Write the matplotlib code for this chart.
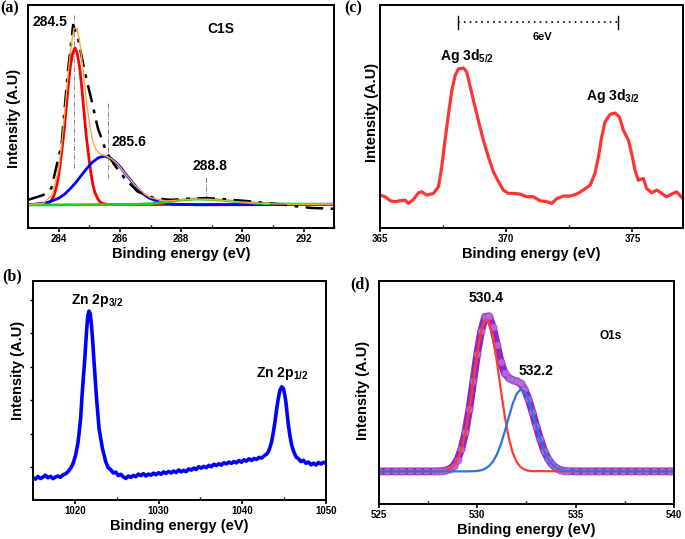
import matplotlib
matplotlib.use('Agg')
import matplotlib.pyplot as plt
from matplotlib.ticker import MultipleLocator

plt.rcParams['font.family'] = ['Liberation Sans', 'DejaVu Sans']
plt.rcParams['mathtext.fontset'] = 'custom'
plt.rcParams['mathtext.rm'] = 'Liberation Sans:bold'
plt.rcParams['mathtext.bf'] = 'Liberation Sans:bold'

# ---- (a) C1s fit (arbitrary units, axis 0-100)
c1s_red_x = [283.0, 283.66, 283.74, 283.81, 283.88, 283.95, 284.02, 284.09, 284.17, 284.24,
             284.31, 284.38, 284.46, 284.53, 284.60, 284.68, 284.75, 284.82, 284.89, 284.97,
             285.04, 285.11, 285.18, 285.26, 285.33, 285.40, 285.6, 293.0]
c1s_red_y = [10.4, 11.2, 12.0, 13.5, 16.0, 19.9, 25.6, 33.2, 42.6, 53.0,
             63.5, 72.4, 78.5, 80.7, 78.5, 72.4, 63.5, 53.0, 42.6, 33.2,
             25.6, 19.9, 16.0, 13.5, 12.0, 11.2, 10.5, 10.6]
c1s_blue_x = [283.0, 283.26, 283.63, 284.0, 284.19, 284.37, 284.56, 284.74, 284.93, 285.11,
              285.30, 285.48, 285.67, 285.85, 286.04, 286.22, 286.41, 286.59, 286.78, 286.96,
              287.33, 287.70, 288.5, 293.0]
c1s_blue_y = [10.5, 10.6, 11.4, 13.35, 15.1, 17.5, 20.4, 23.6, 26.9, 29.6,
              31.5, 32.2, 31.5, 29.6, 26.9, 23.6, 20.4, 17.5, 15.1, 13.35,
              11.4, 10.65, 10.4, 10.5]
c1s_green_x = [283.0, 286.5, 287.0, 287.5, 288.0, 288.5, 289.0, 289.5, 290.0, 290.5, 291.0, 292.0, 293.0]
c1s_green_y = [10.3, 10.6, 10.9, 11.6, 12.5, 13.0, 12.8, 12.2, 11.6, 11.1, 10.8, 10.7, 10.7]
c1s_env_x = [283.0, 283.5, 283.8, 284.0, 284.1, 284.2, 284.3, 284.4, 284.5, 284.6,
             284.7, 284.8, 284.9, 285.0, 285.1, 285.2, 285.3, 285.4, 285.5, 285.7,
             285.9, 286.1, 286.3, 286.5, 286.8, 287.0, 287.5, 288.0, 288.5, 289.0,
             289.5, 290.0, 291.0, 292.0, 293.0]
c1s_env_y = [10.5, 11.1, 15.0, 26.6, 37.7, 52.0, 67.8, 81.5, 89.5, 89.4,
             82.1, 70.4, 57.6, 47.1, 39.6, 35.6, 33.7, 32.9, 32.5, 31.2,
             28.9, 25.7, 22.2, 19.0, 15.3, 13.6, 12.1, 12.6, 13.0, 12.8,
             12.2, 11.6, 10.8, 10.7, 10.7]
c1s_raw_x = [283.0, 283.5, 283.76, 284.09, 284.3, 284.47, 284.63, 284.85, 285.06, 285.28,
             285.55, 285.82, 286.15, 286.58, 287.13, 287.67, 288.3, 288.86, 289.5, 290.2,
             290.9, 291.4, 291.77, 292.24, 292.8, 293.0]
c1s_raw_y = [12.6, 14.8, 17.8, 37.2, 70.0, 91.0, 85.0, 70.0, 58.0, 44.7,
             34.2, 28.3, 22.3, 16.3, 13.3, 12.6, 13.2, 13.4, 12.8, 12.0,
             11.0, 10.4, 9.7, 9.0, 8.7, 8.6]
c1s_peaks = [284.5, 285.6, 288.8]
c1s_marker_lo = [26.8, 22.3, 12.7]
c1s_marker_hi = [95.5, 56.6, 23.0]

# ---- (b) Zn 2p
zn_x = [1015.0, 1015.3, 1015.6, 1015.9, 1016.2, 1016.5, 1016.8, 1017.1, 1017.4, 1017.7,
        1018.0, 1018.3, 1018.6, 1018.9, 1019.2, 1019.5, 1019.8, 1020.1, 1020.4, 1020.7,
        1020.9, 1021.2, 1021.4, 1021.55, 1021.7, 1021.85, 1022.0, 1022.15, 1022.3, 1022.6,
        1022.9, 1023.3, 1023.7, 1024.0, 1024.3, 1024.6, 1024.9, 1025.2, 1025.5, 1025.8,
        1026.1, 1026.4, 1026.7, 1027.0, 1027.3, 1027.6, 1027.9, 1028.2, 1028.5, 1028.8,
        1029.1, 1029.4, 1029.7, 1030.0, 1030.3, 1030.6, 1030.9, 1031.2, 1031.5, 1031.8,
        1032.1, 1032.4, 1032.7, 1033.0, 1033.3, 1033.6, 1033.9, 1034.2, 1034.5, 1034.8,
        1035.1, 1035.4, 1035.7, 1036.0, 1036.3, 1036.6, 1036.9, 1037.2, 1037.5, 1037.8,
        1038.1, 1038.4, 1038.7, 1039.0, 1039.3, 1039.6, 1039.9, 1040.2, 1040.5, 1040.8,
        1041.1, 1041.4, 1041.7, 1042.0, 1042.3, 1042.6, 1042.9, 1043.1, 1043.3, 1043.5,
        1043.7, 1043.9, 1044.1, 1044.3, 1044.5, 1044.7, 1044.9, 1045.05, 1045.2, 1045.35,
        1045.5, 1045.7, 1045.9, 1046.1, 1046.4, 1046.7, 1047.0, 1047.3, 1047.6, 1047.9,
        1048.2, 1048.5, 1048.8, 1049.1, 1049.4, 1049.7, 1050.0]
zn_y = [10.3, 9.6, 10.8, 9.9, 10.5, 11.4, 10.2, 10.9, 9.8, 10.6,
        11.0, 10.4, 11.6, 12.0, 13.0, 14.5, 16.7, 20.5, 26.6, 37.2,
        49.4, 64.6, 76.7, 84.0, 86.2, 84.8, 79.5, 72.0, 63.1, 46.4,
        32.7, 23.6, 17.5, 14.8, 13.9, 12.4, 12.8, 11.2, 11.8, 10.6,
        9.9, 11.0, 10.4, 11.3, 10.7, 11.9, 11.2, 12.1, 11.0, 11.9,
        11.4, 12.3, 11.6, 12.5, 11.8, 12.9, 12.2, 13.1, 12.4, 13.3,
        12.6, 13.8, 12.9, 13.6, 13.0, 14.3, 13.7, 14.6, 14.0, 15.3,
        14.6, 15.4, 14.8, 15.9, 15.2, 16.4, 15.8, 16.6, 16.0, 17.1,
        16.5, 17.4, 16.8, 17.6, 17.0, 18.1, 17.3, 18.4, 17.8, 18.9,
        18.1, 19.0, 18.6, 19.5, 19.2, 20.2, 21.0, 22.0, 24.0, 26.6,
        30.8, 35.7, 41.5, 46.4, 50.2, 51.7, 50.9, 48.5, 44.8, 39.5,
        34.2, 29.0, 25.1, 22.5, 19.8, 18.9, 17.6, 18.2, 16.8, 17.4,
        16.1, 16.9, 16.0, 17.2, 16.5, 17.3, 16.7]
zn_yticks = [15.2, 30.4, 45.6, 60.8, 76.0, 91.2]

# ---- (c) Ag 3d
ag_x = [365.0, 365.2, 365.4, 365.59, 365.79, 365.99, 366.12, 366.32, 366.52, 366.65,
        366.85, 367.11, 367.31, 367.44, 367.57, 367.71, 367.84, 367.97, 368.1, 368.3,
        368.43, 368.54, 368.7, 368.89, 369.09, 369.29, 369.49, 369.69, 369.88, 370.08,
        370.28, 370.54, 370.81, 371.07, 371.34, 371.6, 371.8, 372.0, 372.26, 372.52,
        372.79, 373.05, 373.32, 373.51, 373.65, 373.78, 373.91, 374.11, 374.31, 374.48,
        374.64, 374.84, 374.97, 375.1, 375.23, 375.43, 375.56, 375.76, 375.96, 376.16,
        376.35, 376.55, 376.75, 377.0]
ag_y = [14.7, 14.0, 12.2, 11.8, 12.2, 12.5, 11.0, 12.8, 15.8, 16.2,
        14.7, 15.5, 18.5, 27.4, 39.3, 51.2, 61.6, 68.3, 71.3, 71.7,
        69.9, 64.6, 57.1, 48.2, 39.3, 31.8, 25.1, 20.7, 17.0, 15.5,
        15.5, 15.2, 14.0, 14.0, 12.2, 11.8, 11.0, 13.2, 14.3, 14.3,
        15.2, 17.0, 19.2, 24.4, 31.8, 40.8, 47.5, 50.9, 51.5, 49.8,
        43.8, 39.3, 33.3, 25.9, 21.4, 22.2, 17.7, 15.8, 17.0, 15.5,
        14.0, 15.2, 16.2, 13.2]

# ---- (d) O1s
o_red_x = [525.0, 528.0, 528.2, 528.4, 528.6, 528.8, 529.0, 529.2, 529.4, 529.6,
           529.8, 530.0, 530.2, 530.4, 530.6, 530.8, 531.0, 531.2, 531.4, 531.6,
           531.8, 532.0, 532.2, 532.4, 532.6, 532.8, 540.0]
o_red_y = [14.6, 14.65, 14.75, 15.0, 15.7, 17.1, 19.9, 24.8, 32.2, 42.6,
           54.9, 67.4, 77.5, 82.7, 81.7, 74.7, 63.7, 51.1, 39.3, 29.7,
           23.0, 18.9, 16.6, 15.4, 14.9, 14.7, 14.6]
o_blue_x = [525.0, 529.4, 529.8, 530.0, 530.2, 530.4, 530.6, 530.8, 531.0, 531.2,
            531.4, 531.6, 531.8, 532.0, 532.2, 532.4, 532.6, 532.8, 533.0, 533.2,
            533.4, 533.6, 533.8, 534.0, 534.2, 534.4, 534.6, 540.0]
o_blue_y = [14.6, 14.6, 14.7, 14.8, 15.1, 15.8, 17.0, 19.0, 22.2, 26.7,
            32.5, 38.8, 44.8, 49.3, 51.3, 50.4, 46.8, 41.3, 35.0, 29.0,
            23.9, 20.2, 17.7, 16.2, 15.3, 14.9, 14.7, 14.6]
o_data_x = [525.0, 525.4, 525.8, 526.2, 526.6, 527.0, 527.4, 527.8, 528.0, 528.2,
            528.4, 528.6, 528.8, 529.0, 529.2, 529.4, 529.6, 529.8, 530.0, 530.2,
            530.4, 530.6, 530.8, 531.0, 531.2, 531.4, 531.6, 531.8, 532.0, 532.2,
            532.4, 532.6, 532.8, 533.0, 533.2, 533.4, 533.6, 533.8, 534.0, 534.2,
            534.4, 534.6, 535.0, 535.4, 535.8, 536.2, 536.6, 537.0, 537.4, 537.8,
            538.2, 538.6, 539.0, 539.4, 539.8, 540.0]
o_data_y = [14.6, 14.6, 14.6, 14.6, 14.6, 14.6, 14.6, 14.6, 14.65, 14.75,
            15.0, 15.7, 17.1, 19.9, 24.8, 32.2, 42.6, 54.9, 67.4, 77.5,
            83.9, 84.1, 79.1, 71.3, 63.6, 58.5, 56.5, 55.5, 55.0, 54.0,
            51.5, 47.1, 41.3, 35.0, 29.0, 23.9, 20.2, 17.7, 16.2, 15.3,
            14.9, 14.7, 14.6, 14.6, 14.6, 14.6, 14.6, 14.6, 14.6, 14.6,
            14.6, 14.6, 14.6, 14.6, 14.6, 14.6]

fig = plt.figure(figsize=(6.85, 5.39), dpi=100)

ax_a = fig.add_axes([0.041, 0.577, 0.447, 0.414])
ax_c = fig.add_axes([0.555, 0.577, 0.442, 0.414])
ax_b = fig.add_axes([0.048, 0.072, 0.428, 0.407])
ax_d = fig.add_axes([0.553, 0.065, 0.431, 0.414])

lbl = dict(fontsize=10.5, fontweight='bold')


def style(ax, xlim, major, minor, ycoords):
    ax.set_xlim(*xlim)
    ax.set_ylim(0, 100)
    ax.xaxis.set_major_locator(MultipleLocator(major))
    ax.xaxis.set_minor_locator(MultipleLocator(minor))
    ax.tick_params(axis='x', which='major', direction='out', length=3, width=1.2,
                   labelsize=7, pad=1.5)
    ax.tick_params(axis='x', which='minor', direction='in', length=2, width=1)
    for lab in ax.get_xticklabels():
        lab.set_fontweight('bold')
    ax.set_yticks([])
    for s in ax.spines.values():
        s.set_linewidth(1.4)
    ax.set_xlabel('Binding energy (eV)', labelpad=2, **lbl)
    ax.set_ylabel('Intensity (A.U)', **lbl)
    ax.yaxis.set_label_coords(*ycoords)


# (a)
style(ax_a, (283, 293), 2, 1, (-0.022, 0.49))
for xp, lo, hi in zip(c1s_peaks, c1s_marker_lo, c1s_marker_hi):
    ax_a.plot([xp, xp], [lo, hi], color='#888888', lw=0.7, ls=(0, (5, 1.5, 1, 1.5)))
ax_a.plot(c1s_red_x, c1s_red_y, color='#ff0000', lw=2)
ax_a.plot(c1s_blue_x, c1s_blue_y, color='#0000ff', lw=2)
ax_a.plot(c1s_green_x, c1s_green_y, color='#22cc22', lw=2)
ax_a.plot(c1s_raw_x, c1s_raw_y, color='black', lw=1.8, ls=(0, (7, 3, 1.5, 3)))
ax_a.plot(c1s_env_x, c1s_env_y, color='#ffa545', lw=1)
ax_a.text(283.15, 92.5, '284.5', ha='left', va='center', fontsize=10, fontweight='bold')
ax_a.text(285.71, 38.7, '285.6', ha='left', va='center', fontsize=10, fontweight='bold')
ax_a.text(288.93, 27.6, '288.8', ha='center', va='center', fontsize=10, fontweight='bold')
ax_a.text(289.28, 89, 'C1S', ha='center', va='center', fontsize=10, fontweight='bold')

# (b)
style(ax_b, (1015, 1050), 10, 5, (-0.027, 0.59))
ax_b.set_yticks(zn_yticks)
ax_b.tick_params(axis='y', direction='out', length=2, width=1, labelleft=False)
ax_b.plot(zn_x, zn_y, color='#0000ff', lw=2.6)
ax_b.text(1022.65, 91.2, r'Zn 2p$_{\mathbf{3/2}}$', ha='center', va='center', fontsize=10, fontweight='bold')
ax_b.text(1044.8, 57.8, r'Zn 2p$_{\mathbf{1/2}}$', ha='center', va='center', fontsize=10, fontweight='bold')

# (c)
style(ax_c, (365, 377), 5, 2.5, (-0.005, 0.52))
ax_c.plot(ag_x, ag_y, color='#ff3535', lw=2.3)
ax_c.plot([368.07, 374.43], [92.2, 92.2], color='black', lw=1.2, ls=(0, (1, 2.5)))
ax_c.plot([368.07, 368.07], [89.0, 95.0], color='black', lw=1)
ax_c.plot([374.43, 374.43], [89.0, 95.0], color='black', lw=1)
ax_c.text(371.42, 85.5, '6eV', ha='center', va='center', fontsize=8, fontweight='bold')
ax_c.text(368.42, 77, r'Ag 3d$_{\mathbf{5/2}}$', ha='center', va='center', fontsize=10, fontweight='bold')
ax_c.text(374.23, 59, r'Ag 3d$_{\mathbf{3/2}}$', ha='center', va='center', fontsize=10, fontweight='bold')

# (d)
style(ax_d, (525, 540), 5, 2.5, (-0.03, 0.51))
ax_d.plot(o_data_x, o_data_y, color='#9226c6', lw=5.5, solid_capstyle='round')
ax_d.plot(o_data_x, o_data_y, ls='none', marker='o', ms=5, mfc='#c283e0', mec='#a04ad0',
          mew=0.8, alpha=0.7)
ax_d.plot(o_red_x, o_red_y, color='#ff3b30', lw=1.6)
ax_d.plot(o_blue_x, o_blue_y, color='#2678e0', lw=1.6)
ax_d.text(530.47, 92.1, '530.4', ha='center', va='center', fontsize=10, fontweight='bold')
ax_d.text(533.0, 59.6, '532.2', ha='center', va='center', fontsize=10, fontweight='bold')
ax_d.text(536.8, 75.3, 'O1s', ha='center', va='center', fontsize=8.5, fontweight='bold')

# panel letters
for x, y, t in [(0.001, 0.999, '(a)'), (0.503, 0.999, '(c)'),
                (0.003, 0.502, '(b)'), (0.511, 0.487, '(d)')]:
    fig.text(x, y, t, ha='left', va='top', fontsize=11.5, fontweight='bold',
             family='Liberation Serif')

fig.savefig('out.png', dpi=100)
